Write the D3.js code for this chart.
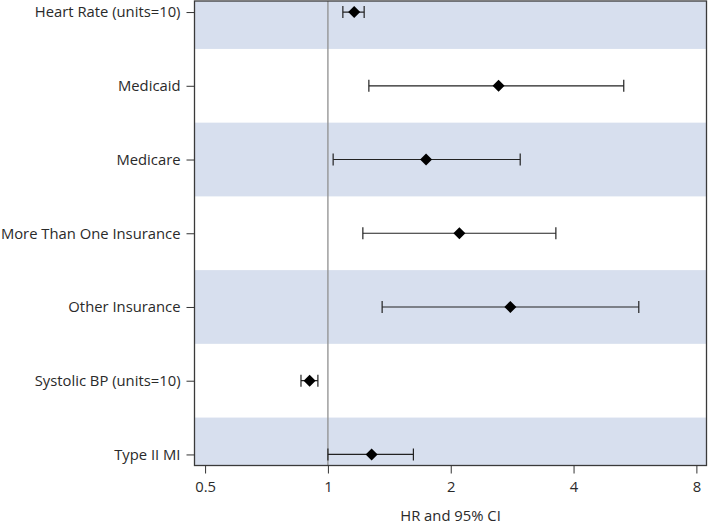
<!DOCTYPE html>
<html>
<head>
<meta charset="utf-8">
<script src="https://cdn.jsdelivr.net/npm/d3@7"></script>
<style>
  html, body { margin: 0; padding: 0; background: #fff; }
  svg { display: block; }
  text { font-family: "Open Sans", "Noto Sans", sans-serif; fill: #2a2a2a; }
</style>
</head>
<body>
<div id="chart"></div>
<script>
const categories = ["Heart Rate (units=10)", "Medicaid", "Medicare", "More Than One Insurance", "Other Insurance", "Systolic BP (units=10)", "Type II MI"];
const hr    = [1.16, 2.62, 1.74, 2.10, 2.80, 0.902, 1.28];
const lower = [1.088, 1.26, 1.03, 1.218, 1.358, 0.859, 1.0];
const upper = [1.227, 5.31, 2.96, 3.62, 5.78, 0.945, 1.62];
const shaded = [true, false, true, false, true, false, true];
const tickValues = [0.5, 1, 2, 4, 8];
const tickLabels = ["0.5", "1", "2", "4", "8"];
const xTitle = "HR and 95% CI";

const W = 709, H = 523;
const m = { left: 194.5, right: 2.5, top: 1, bottom: 57.5 };
const iw = W - m.left - m.right, ih = H - m.top - m.bottom;
const FONT = '"Open Sans", "Noto Sans", sans-serif';
const FS = 14.8;

const svg = d3.select("#chart").append("svg").attr("width", W).attr("height", H);
const g = svg.append("g").attr("transform", `translate(${m.left},${m.top})`);

const x = d3.scaleLog().base(2).domain([0.471, 8.47]).range([0, iw]);
const y = d3.scalePoint().domain(categories).range([0, ih]).padding(0.15);
const step = y.step();

svg.append("defs").append("clipPath").attr("id", "clip")
  .append("rect").attr("width", iw).attr("height", ih);

const data = categories.map((c, i) => ({ c, hr: hr[i], lo: lower[i], hi: upper[i], sh: shaded[i] }));

const plot = g.append("g").attr("clip-path", "url(#clip)");
plot.selectAll("rect.band").data(data.filter(d => d.sh)).join("rect")
  .attr("class", "band")
  .attr("x", 0).attr("width", iw)
  .attr("y", d => y(d.c) - step / 2).attr("height", step)
  .attr("fill", "#d7dfee");

// reference line at 1
plot.append("line")
  .attr("x1", x(1)).attr("x2", x(1)).attr("y1", 0).attr("y2", ih)
  .attr("stroke", "#8f8f8f").attr("stroke-width", 1.3);

// error bars
const capH = 6;
const eb = plot.selectAll("g.eb").data(data).join("g").attr("class", "eb");
eb.append("line")
  .attr("x1", d => x(d.lo)).attr("x2", d => x(d.hi))
  .attr("y1", d => y(d.c)).attr("y2", d => y(d.c))
  .attr("stroke", "#222").attr("stroke-width", 1.2);
eb.append("line")
  .attr("x1", d => x(d.lo)).attr("x2", d => x(d.lo))
  .attr("y1", d => y(d.c) - capH).attr("y2", d => y(d.c) + capH)
  .attr("stroke", "#222").attr("stroke-width", 1.2);
eb.append("line")
  .attr("x1", d => x(d.hi)).attr("x2", d => x(d.hi))
  .attr("y1", d => y(d.c) - capH).attr("y2", d => y(d.c) + capH)
  .attr("stroke", "#222").attr("stroke-width", 1.2);

// diamonds
const ds = 6;
plot.selectAll("path.pt").data(data).join("path")
  .attr("class", "pt")
  .attr("d", d => {
    const cx = x(d.hr), cy = y(d.c);
    return `M${cx},${cy - ds}L${cx + ds},${cy}L${cx},${cy + ds}L${cx - ds},${cy}Z`;
  })
  .attr("fill", "#000");

// frame
g.append("rect").attr("x", 0).attr("y", 0).attr("width", iw).attr("height", ih)
  .attr("fill", "none").attr("stroke", "#3a3a3a").attr("stroke-width", 1.3);

// y axis
const yAxis = g.append("g").call(d3.axisLeft(y).tickSize(8).tickPadding(6));
yAxis.select(".domain").remove();
yAxis.selectAll(".tick line").attr("stroke", "#333");
yAxis.selectAll(".tick text").attr("font-size", FS).attr("fill", "#2a2a2a")
  .style("font-family", FONT);

// x axis
const xAxis = g.append("g").attr("transform", `translate(0,${ih})`)
  .call(d3.axisBottom(x).tickValues(tickValues).tickFormat((d, i) => tickLabels[i]).tickSize(8).tickPadding(8));
xAxis.select(".domain").remove();
xAxis.selectAll(".tick line").attr("stroke", "#333");
xAxis.selectAll(".tick text").attr("font-size", FS).attr("fill", "#2a2a2a")
  .style("font-family", FONT);

g.append("text")
  .attr("x", iw / 2).attr("y", ih + 55)
  .attr("text-anchor", "middle").attr("font-size", FS)
  .text(xTitle);
</script>
</body>
</html>
